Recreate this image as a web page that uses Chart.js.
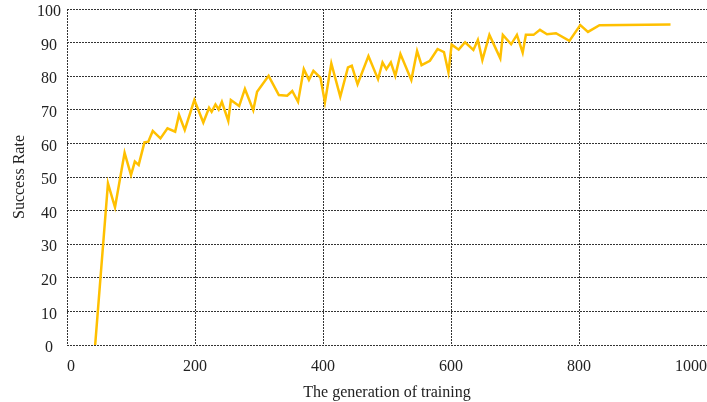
<!DOCTYPE html>
<html>
<head>
<meta charset="utf-8">
<script src="https://cdn.jsdelivr.net/npm/chart.js@4/dist/chart.umd.min.js"></script>
<style>
  html, body { margin: 0; padding: 0; background: #fff; overflow: hidden; }
  #wrap { width: 707px; height: 402px; position: relative; }
</style>
</head>
<body>
<div id="wrap"><canvas id="chart"></canvas></div>
<script>
// generation of training (x) and success rate (y)
const generations = [44, 64, 75, 90, 100, 106, 112, 121, 127, 134, 146, 157, 169, 175, 184,
  199, 213, 222, 226, 232, 237, 242, 252, 256, 269, 278, 291, 297, 315, 331,
  344, 352, 361, 370, 378, 385, 396, 403, 413, 427, 439, 445, 454, 471, 486,
  493, 499, 506, 513, 521, 538, 547, 554, 567, 579, 589, 596, 601, 612, 622,
  635, 642, 649, 660, 677, 681, 694, 703, 712, 717, 729, 739, 750, 764, 785,
  802, 814, 832, 943];
const successRate = [0, 48.1, 41, 57.2, 50.6, 54.6, 53.6, 60.3, 60.5, 63.7, 61.5, 64.5, 63.5, 68.5, 64,
  72.9, 66.2, 70.6, 69.4, 71.6, 70.1, 72.4, 66.7, 72.9, 71.1, 76.2, 69.9, 75.4, 80.1, 74.4,
  74.2, 75.6, 72.4, 82.1, 78.9, 81.6, 79.6, 72.2, 83.8, 73.9, 82.6, 83.1, 77.6, 86, 79.1,
  84.1, 82.1, 84.1, 80.1, 86.6, 78.9, 87.5, 83.3, 84.6, 88.1, 87.2, 81.2, 89.4, 87.9, 90.1,
  87.8, 90.8, 84.8, 92.3, 85.3, 92.3, 89.5, 92.3, 87, 92.3, 92.3, 93.8, 92.5, 92.8, 90.5,
  95.2, 93.2, 95.2, 95.4];

const xTicks = [0, 200, 400, 600, 800, 1000];
const yTicks = [0, 10, 20, 30, 40, 50, 60, 70, 80, 90, 100];

const points = generations.map((g, i) => ({ x: g, y: successRate[i] }));

const serif = "'Liberation Serif', 'DejaVu Serif', serif";
const gridStyle = {
  color: "#333",
  lineWidth: 1,
  drawTicks: false,
};
// v4 takes the grid line dash from the border options
const dotted = { display: false, dash: [2, 1] };

new Chart(document.getElementById("chart"), {
  type: "line",
  data: {
    datasets: [
      {
        label: "Success Rate",
        data: points,
        borderColor: "#FFC000",
        borderWidth: 2.5,
        pointRadius: 0,
        tension: 0,
        fill: false,
      },
    ],
  },
  options: {
    responsive: true,
    maintainAspectRatio: false,
    animation: false,
    layout: { padding: { top: 9, right: 0, left: 0, bottom: 0 } },
    plugins: { legend: { display: false }, tooltip: { enabled: false } },
    scales: {
      x: {
        type: "linear",
        min: xTicks[0],
        max: xTicks[xTicks.length - 1],
        afterBuildTicks: (scale) => {
          scale.ticks = xTicks.map((v) => ({ value: v }));
        },
        afterFit: (scale) => {
          scale.height = 57;
          scale.paddingLeft = 0;
          scale.paddingRight = 0;
        },
        grid: gridStyle,
        border: dotted,
        ticks: {
          align: "inner",
          padding: 12,
          color: "#222",
          font: { family: serif, size: 16 },
          maxRotation: 0,
          callback: (v) => String(v),
        },
        title: {
          display: true,
          text: "The generation of training",
          color: "#222",
          font: { family: serif, size: 16 },
          padding: { top: 0, bottom: 0 },
        },
      },
      y: {
        min: yTicks[0],
        max: yTicks[yTicks.length - 1],
        afterBuildTicks: (scale) => {
          scale.ticks = yTicks.map((v) => ({ value: v }));
        },
        afterFit: (scale) => {
          scale.width = 67;
          scale.paddingTop = 0;
          scale.paddingBottom = 0;
        },
        grid: gridStyle,
        border: dotted,
        ticks: {
          crossAlign: "center",
          padding: 6,
          labelOffset: 3,
          color: "#222",
          font: { family: serif, size: 16 },
        },
        title: {
          display: true,
          text: "Success Rate",
          color: "#222",
          font: { family: serif, size: 16 },
          padding: 10,
        },
      },
    },
  },
});
</script>
</body>
</html>
